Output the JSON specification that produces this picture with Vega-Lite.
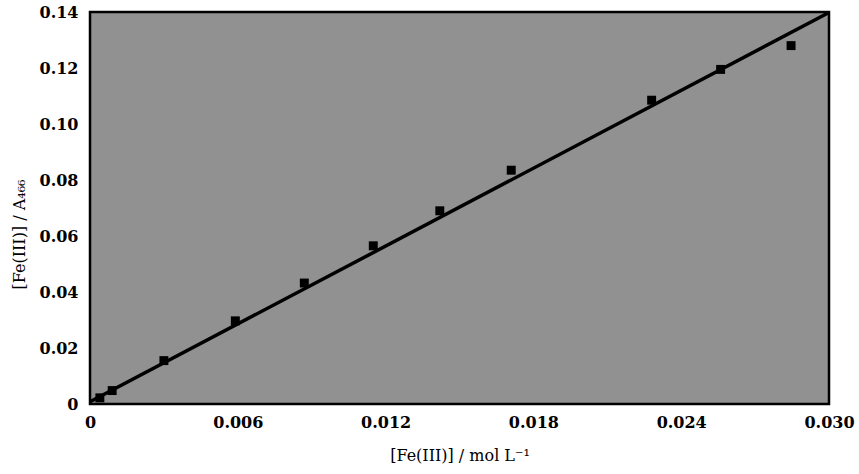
{
  "$schema": "https://vega.github.io/schema/vega-lite/v6.json",
  "width": 739,
  "height": 392,
  "autosize": {"type": "none"},
  "padding": {"left": 90, "top": 12, "right": 30, "bottom": 70},
  "background": "white",
  "config": {
    "view": {"fill": "#919191", "stroke": "black", "strokeWidth": 2.5},
    "font": "DejaVu Serif"
  },
  "datasets": {
    "points": [
      {"conc": 0.0004, "ratio": 0.0022},
      {"conc": 0.0009, "ratio": 0.0048},
      {"conc": 0.003, "ratio": 0.0155},
      {"conc": 0.0059, "ratio": 0.0297},
      {"conc": 0.0087, "ratio": 0.0432},
      {"conc": 0.0115, "ratio": 0.0565},
      {"conc": 0.0142, "ratio": 0.0690},
      {"conc": 0.0171, "ratio": 0.0835},
      {"conc": 0.0228, "ratio": 0.1085},
      {"conc": 0.0256, "ratio": 0.1195},
      {"conc": 0.02846, "ratio": 0.1280}
    ],
    "fit": [
      {"conc": 0.0, "ratio": 0.0008},
      {"conc": 0.030, "ratio": 0.1398}
    ]
  },
  "layer": [
    {
      "data": {"name": "fit"},
      "mark": {"type": "line", "color": "black", "strokeWidth": 3.5},
      "encoding": {
        "x": {"field": "conc", "type": "quantitative"},
        "y": {"field": "ratio", "type": "quantitative"}
      }
    },
    {
      "data": {"name": "points"},
      "mark": {"type": "point", "shape": "square", "filled": true, "color": "black", "opacity": 1, "size": 80},
      "encoding": {
        "x": {
          "field": "conc",
          "type": "quantitative",
          "scale": {"domain": [0, 0.03], "nice": false, "zero": false},
          "axis": {
            "values": [0, 0.006, 0.012, 0.018, 0.024, 0.03],
            "labelExpr": "datum.value == 0 ? '0' : format(datum.value, '.3f')",
            "title": "[Fe(III)] / mol L⁻¹",
            "grid": false,
            "ticks": false,
            "domain": false,
            "labelFont": "DejaVu Serif",
            "labelFontSize": 16,
            "labelFontWeight": "bold",
            "labelColor": "black",
            "labelPadding": 10,
            "labelFlush": false,
            "titleFont": "DejaVu Serif",
            "titleFontSize": 16,
            "titleFontWeight": "normal",
            "titleColor": "black",
            "titlePadding": 17
          }
        },
        "y": {
          "field": "ratio",
          "type": "quantitative",
          "scale": {"domain": [0, 0.14], "nice": false, "zero": false},
          "axis": {
            "values": [0, 0.02, 0.04, 0.06, 0.08, 0.1, 0.12, 0.14],
            "labelExpr": "datum.value == 0 ? '0' : format(datum.value, '.2f')",
            "title": "[Fe(III)] / A₄₆₆",
            "grid": false,
            "ticks": false,
            "domain": false,
            "labelFont": "DejaVu Serif",
            "labelFontSize": 16,
            "labelFontWeight": "bold",
            "labelColor": "black",
            "labelPadding": 12,
            "labelFlush": false,
            "titleFont": "DejaVu Serif",
            "titleFontSize": 16,
            "titleFontWeight": "normal",
            "titleColor": "black",
            "titleAngle": 270,
            "titleAlign": "center",
            "titleBaseline": "middle",
            "titleX": -71,
            "titleY": 222
          }
        }
      }
    }
  ]
}
